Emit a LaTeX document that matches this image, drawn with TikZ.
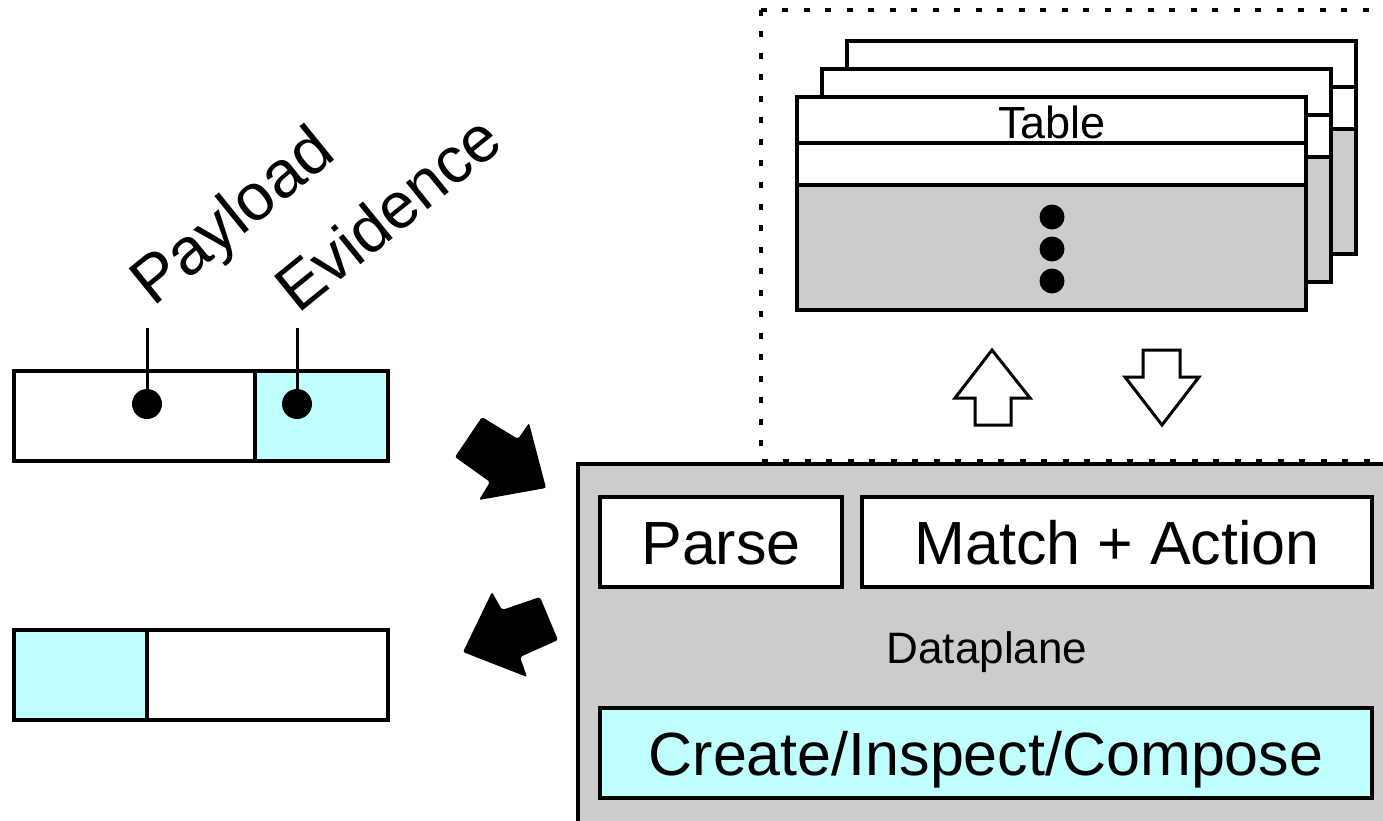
\documentclass[tikz,border=0pt]{standalone}
\usepackage{fontspec}
\setmainfont{Liberation Sans}
\definecolor{pcyan}{RGB}{192,255,255}
\definecolor{pgray}{RGB}{204,204,204}
\begin{document}
\begin{tikzpicture}[x=1pt,y=-1pt,line join=miter,
  box/.style={draw, line width=3.5pt, inner sep=0pt, outer sep=0pt, fill=white},
  bigtxt/.style={font=\fontsize{61}{73}\selectfont, text height=44pt, text depth=0pt},
  dot/.style={circle, fill=black, inner sep=0pt, minimum size=#1},
  stem/.style={line width=3pt},
  hollow/.style={draw, line width=3pt, fill=white},
  solidarrow/.style={fill=black, rounded corners=2pt}]
\useasboundingbox (0,0) rectangle (1383,821);
\clip (0,0) rectangle (1383,821);

% dotted control-plane region
\draw[line width=4.5pt, dash pattern=on 6pt off 15.5pt] (761,10) rectangle (1420,461);

% stacked tables
\foreach \i/\dx/\dy in {3/50/-56, 2/25/-28, 1/0/0} {
  \begin{scope}[shift={(\dx,\dy)}]
    \node[box, anchor=north west, minimum width=509, minimum height=46] (t\i a) at (797,97) {};
    \node[box, anchor=north west, minimum width=509, minimum height=42] (t\i b) at (797,143) {};
    \node[box, fill=pgray, anchor=north west, minimum width=509, minimum height=125] (t\i c) at (797,185) {};
  \end{scope}
}
\node[font=\fontsize{45}{54}\selectfont, anchor=base] (tlabel) at (1052,139) {Table};
\node[dot=25pt] (d1) at (1052,217) {};
\node[dot=25pt] (d2) at (1052,249) {};
\node[dot=25pt] (d3) at (1052,281) {};

% hollow arrows
\draw[hollow] (992,350) -- (1030,398) -- (1011,398) -- (1011,425) -- (975,425) -- (975,398) -- (955,398) -- cycle;
\draw[hollow] (1143,350) -- (1180,350) -- (1180,377) -- (1199,377) -- (1162,425) -- (1125,377) -- (1143,377) -- cycle;

% dataplane
\node[box, fill=pgray, anchor=north west, minimum width=900, minimum height=420] (dp) at (578,464) {};
\node[box, bigtxt, minimum width=242, minimum height=90] (parse) at (721,542) {Parse};
\node[box, bigtxt, minimum width=510, minimum height=90] (match) at (1117,542) {Match + Action};
\node[font=\fontsize{44}{53}\selectfont, anchor=base] (dplabel) at (987,663) {Dataplane};
\node[box, bigtxt, fill=pcyan, minimum width=772, minimum height=90] (create) at (986,753) {Create/Inspect/Compose};

% incoming packet
\node[box, minimum width=241, minimum height=90] (pay) at (134.5,416) {};
\node[box, fill=pcyan, minimum width=133, minimum height=90] (evi) at (321.5,416) {};
\coordinate (ptop) at (147,328);
\coordinate (etop) at (297,328);
\node[dot=30pt] (pd) at (147,404) {};
\node[dot=30pt] (ed) at (297,404) {};
\draw[stem] (ptop) -- (pd.center);
\draw[stem] (etop) -- (ed.center);
\node[font=\fontsize{66}{79}\selectfont, rotate=39, anchor=base west, inner sep=0pt] (plab) at (153,308) {Payload};
\node[font=\fontsize{65}{78}\selectfont, rotate=39, anchor=base west, inner sep=0pt] (elab) at (298,315) {Evidence};

% outgoing packet
\node[box, fill=pcyan, minimum width=133, minimum height=90] (evi2) at (80.5,675) {};
\node[box, minimum width=241, minimum height=90] (pay2) at (267.5,675) {};

% solid black arrows
\fill[solidarrow] (455,457) -- (482,417) -- (518,439) -- (529,423) -- (546,488) -- (479,500) -- (490,482) -- cycle;
\fill[solidarrow] (492,592) -- (502,610) -- (540,597) -- (558,640) -- (520,657) -- (527,677) -- (463,652) -- cycle;
\end{tikzpicture}
\end{document}
